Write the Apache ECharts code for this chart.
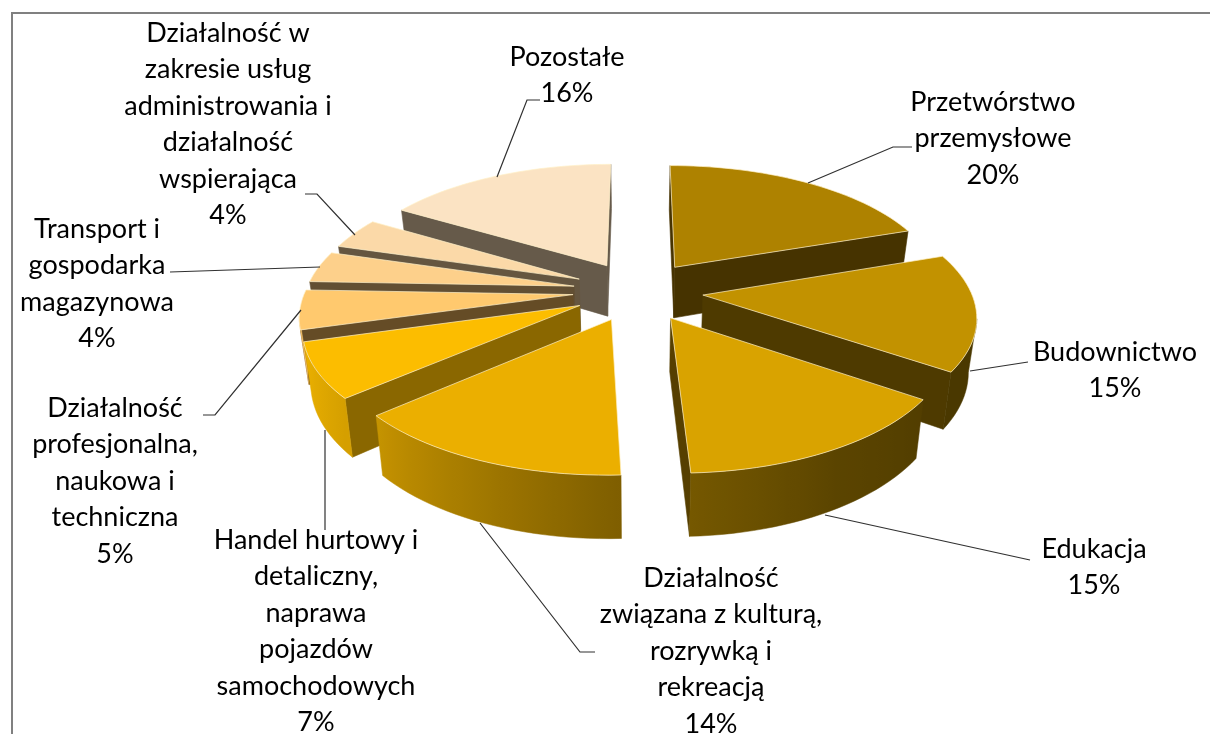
<!DOCTYPE html>
<html>
<head>
<meta charset="utf-8">
<style>
html, body { margin: 0; padding: 0; background: #fff; }
#main { width: 1210px; height: 734px; }
</style>
<script src="https://cdn.jsdelivr.net/npm/echarts@6/dist/echarts.min.js"></script>
</head>
<body>
<div id="main"></div>
<script>
// dane (%), etykiety pokazuja zaokraglenie
var categories = [
	'Przetwórstwo\nprzemysłowe',
	'Budownictwo',
	'Edukacja',
	'Działalność\nzwiązana z kulturą,\nrozrywką i\nrekreacją',
	'Handel hurtowy i\ndetaliczny,\nnaprawa\npojazdów\nsamochodowych',
	'Działalność\nprofesjonalna,\nnaukowa i\ntechniczna',
	'Transport i\ngospodarka\nmagazynowa',
	'Działalność w\nzakresie usług\nadministrowania i\ndziałalność\nwspierająca',
	'Pozostałe'
];
var shares = [19.7, 14.9, 14.7, 14.3, 7, 5, 4, 4, 16.4];

// kolory
var topColors = ['#AE8200', '#C29200', '#D9A300', '#EBAF00', '#FCBD00', '#FFC96E', '#FDD08B', '#FBD9A8', '#FBE3C3'];
var wallColors = ['#463300', '#4E3A00', '#563F00', '#6A4F00', '#8A6700', '#654C26', '#624F33', '#655640', '#665A4A'];
var rimShade = [[0, 0.4], [126, 0.38], [150, 0.42], [180, 0.55], [230, 0.85], [255, 0.95], [360, 1]];

// uklad: srodek x, pierwsza linia y
var labelPos = [[993, 102], [1115, 352], [1094, 549], [711, 578], [316, 540], [115, 408], [97, 229], [228, 33], [567, 57]];
var leaderLines = [
	[[808, 183], [893, 147], [912, 147]],
	[[970, 371], [1028, 362]],
	[[825, 515], [1030, 560]],
	[[480, 523], [580, 652], [595, 652]],
	[[325, 430], [325, 530]],
	[[301, 310], [215, 415], [203, 415]],
	[[320, 267], [170, 272]],
	[[355, 235], [317, 194], [305, 194]],
	[[497, 177], [527, 100], [540, 100]]
];

// rzut perspektywiczny tortu
var cx = 638, cy = 291, R = 268, tilt = 0.46, persp = 0.148, depth = 52, squeeze = 0.025, explode = 0.243;

function project(X, Y, z) {
	var s = 1 / (1 - persp * Y);
	return [cx + R * X * s * (1 - squeeze * z), cy + R * tilt * Y * s + depth * s * z];
}

function shade(hex, f) {
	var n = parseInt(hex.slice(1), 16);
	var r = Math.round((n >> 16 & 255) * f), g = Math.round((n >> 8 & 255) * f), b = Math.round((n & 255) * f);
	return 'rgb(' + r + ',' + g + ',' + b + ')';
}

function rimFactor(deg) {
	for (var i = 1; i < rimShade.length; i++) {
		if (deg <= rimShade[i][0]) {
			var a = rimShade[i - 1], b = rimShade[i];
			return a[1] + (b[1] - a[1]) * (deg - a[0]) / (b[0] - a[0]);
		}
	}
	return 1;
}

var total = 0;
for (var t = 0; t < shares.length; t++) {
	total += shares[t];
}

function renderSlice(params, api) {
	var idx = params.dataIndex;
	var before = 0;
	for (var i = 0; i < idx; i++) {
		before += shares[i];
	}
	var a0 = before / total * 360;
	var a1 = a0 + api.value(0) / total * 360;
	var mid = (a0 + a1) / 2 * Math.PI / 180;
	var ox = Math.sin(mid) * explode, oy = -Math.cos(mid) * explode;

	// obrys: wierzcholek + luk
	var world = [[ox, oy, 0]];
	var steps = Math.max(2, Math.ceil((a1 - a0) / 2));
	for (var j = 0; j <= steps; j++) {
		var deg = a0 + (a1 - a0) * j / steps;
		var rad = deg * Math.PI / 180;
		world.push([ox + Math.sin(rad), oy - Math.cos(rad), deg]);
	}

	var z2 = Math.round(project(ox, oy, 0)[1]) * 10;
	var children = [];
	var topPts = [];
	for (var k = 0; k < world.length; k++) {
		topPts.push(project(world[k][0], world[k][1], 0));
	}

	// sciany boczne do wierzcholka
	var walls = [[0, 1], [world.length - 1, 0]];
	for (var w = 0; w < walls.length; w++) {
		var ia = walls[w][0], ib = walls[w][1];
		if (topPts[ib][0] < topPts[ia][0]) {
			children.push({
				type: 'polygon',
				z2: z2,
				shape: { points: [topPts[ia], topPts[ib], project(world[ib][0], world[ib][1], 1), project(world[ia][0], world[ia][1], 1)] },
				style: { fill: wallColors[idx], stroke: wallColors[idx], lineWidth: 0.6 }
			});
		}
	}

	// widoczna czesc luku jako jeden wielokat z gradientem
	var upper = [], lower = [], marks = [];
	for (var m = 1; m < world.length - 1; m++) {
		if (topPts[m + 1][0] < topPts[m][0]) {
			if (!upper.length) {
				upper.push(topPts[m]);
				lower.push(project(world[m][0], world[m][1], 1));
				marks.push([topPts[m][0], world[m][2]]);
			}
			upper.push(topPts[m + 1]);
			lower.push(project(world[m + 1][0], world[m + 1][1], 1));
			marks.push([topPts[m + 1][0], world[m + 1][2]]);
		}
	}
	if (upper.length) {
		var xHigh = marks[0][0], xLow = marks[marks.length - 1][0];
		var stops = [];
		for (var q = marks.length - 1; q >= 0; q--) {
			stops.push({
				offset: (marks[q][0] - xLow) / (xHigh - xLow),
				color: shade(topColors[idx], rimFactor(marks[q][1]))
			});
		}
		var grad = new echarts.graphic.LinearGradient(xLow, 0, xHigh, 0, stops, true);
		children.push({
			type: 'polygon',
			z2: z2,
			shape: { points: upper.concat(lower.reverse()) },
			style: { fill: grad, stroke: grad, lineWidth: 0.5 }
		});
	}

	children.push({
		type: 'polygon',
		z2: z2 + 1,
		shape: { points: topPts },
		style: { fill: topColors[idx], stroke: '#FFF0C8', lineWidth: 0.7 }
	});

	// linia odniesienia i etykieta
	children.push({
		type: 'polyline',
		z2: 5000,
		shape: { points: leaderLines[idx] },
		style: { fill: null, stroke: '#303030', lineWidth: 1.2 }
	});
	children.push({
		type: 'text',
		z2: 5001,
		style: {
			text: categories[idx] + '\n' + Math.round(api.value(0) / total * 100) + '%',
			x: labelPos[idx][0],
			y: labelPos[idx][1] - 18,
			fill: '#000',
			font: '27px Lato',
			lineHeight: 36.5,
			textAlign: 'center',
			textVerticalAlign: 'top'
		}
	});
	return { type: 'group', children: children };
}

var myChart = echarts.init(document.getElementById('main'));
var seriesData = [];
for (var d = 0; d < shares.length; d++) {
	seriesData.push({ name: categories[d], value: [shares[d]] });
}
var option = {
	backgroundColor: '#fff',
	animation: false,
	graphic: [{
		type: 'rect',
		shape: { x: 12, y: 13, width: 1400, height: 1000 },
		style: { fill: null, stroke: '#808080', lineWidth: 2 },
		silent: true
	}],
	series: [{
		type: 'custom',
		coordinateSystem: 'none',
		renderItem: renderSlice,
		data: seriesData
	}]
};
myChart.setOption(option);
</script>
</body>
</html>
